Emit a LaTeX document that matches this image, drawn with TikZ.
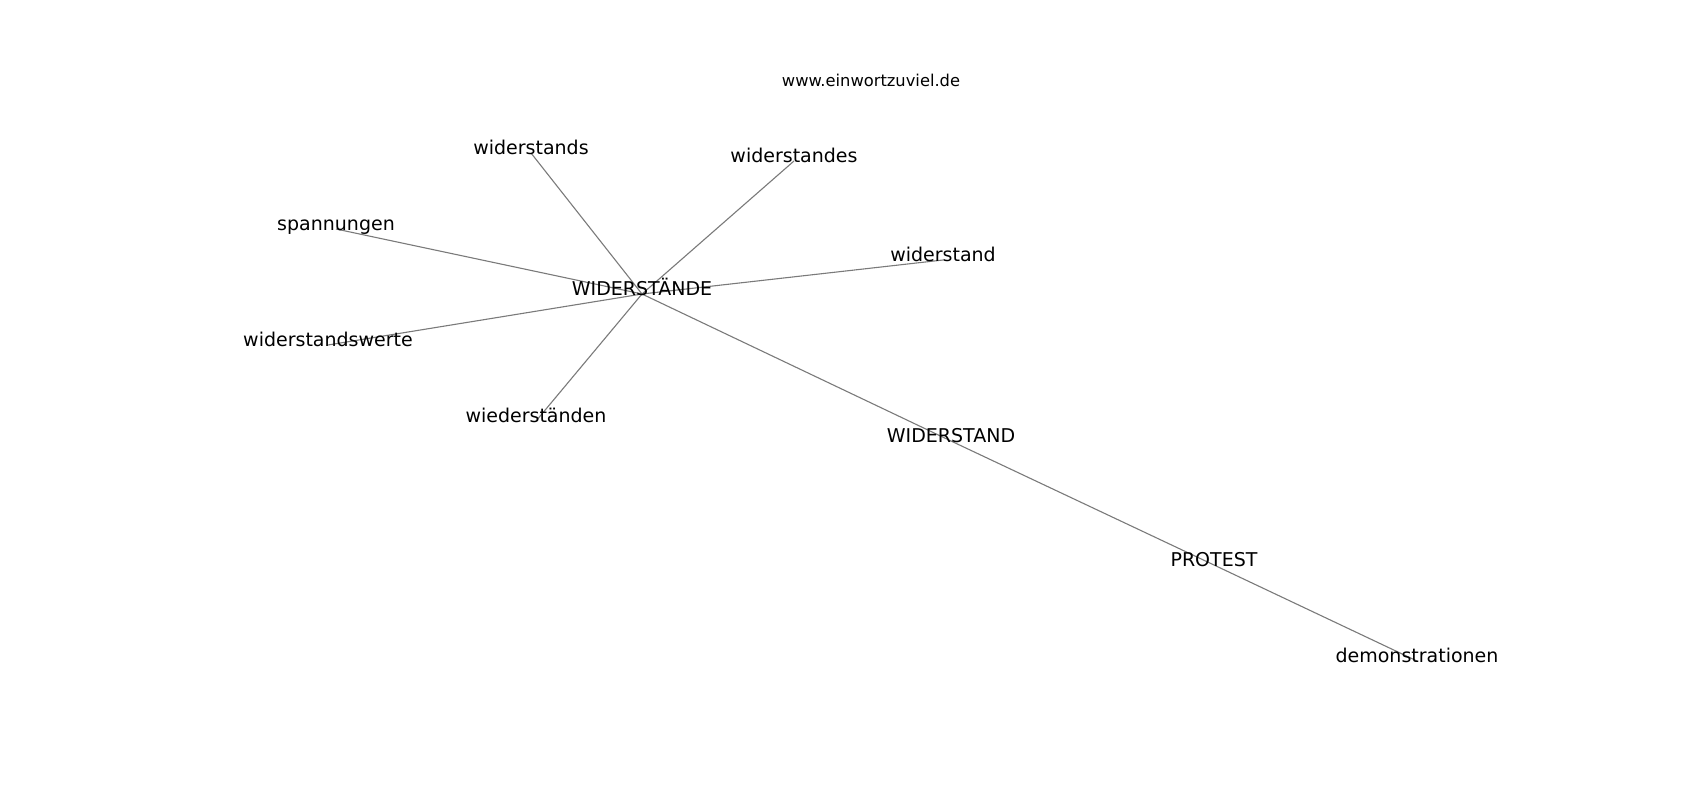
\documentclass[tikz,border=0pt]{standalone}
\usepackage{fontspec}
\setmainfont{DejaVu Sans}
\usetikzlibrary{backgrounds}

\begin{document}
\begin{tikzpicture}[x=1pt, y=-1pt, line cap=round,
    %Style
    word/.style={inner sep=0pt, text height=0.3em, text depth=0.1em,
      font=\fontsize{19}{23}\selectfont},
    site text/.style={word, font=\fontsize{16.3}{20}\selectfont},
    edge line/.style={edgecolor, line width=1.1pt}]
    %Colors
    \colorlet{edgecolor}{black!52}
    \useasboundingbox (0,0) rectangle (1700,800);

    %The words
    \node[site text] (site) at (871,86) {www.einwortzuviel.de};
    \node[word] (hub) at (642,294) {WIDERSTÄNDE};
    \node[word] (widerstands) at (531,153) {widerstands};
    \node[word] (widerstandes) at (794,161) {widerstandes};
    \node[word] (spannungen) at (336,229) {spannungen};
    \node[word] (widerstand) at (943,260) {widerstand};
    \node[word] (werte) at (328,345) {widerstandswerte};
    \node[word] (wiederstaenden) at (536,421) {wiederständen};
    \node[word] (upper) at (951,441) {WIDERSTAND};
    \node[word] (protest) at (1214,565) {PROTEST};
    \node[word] (demo) at (1417,661) {demonstrationen};

    %The edges
    \begin{scope}[on background layer]
      \foreach \leaf in {widerstands, widerstandes, spannungen, widerstand, werte, wiederstaenden}
        \draw[edge line] (hub.center) -- (\leaf.center);
      \draw[edge line] (hub.center) -- (upper.center) -- (protest.center) -- (demo.center);
    \end{scope}
\end{tikzpicture}
\end{document}
